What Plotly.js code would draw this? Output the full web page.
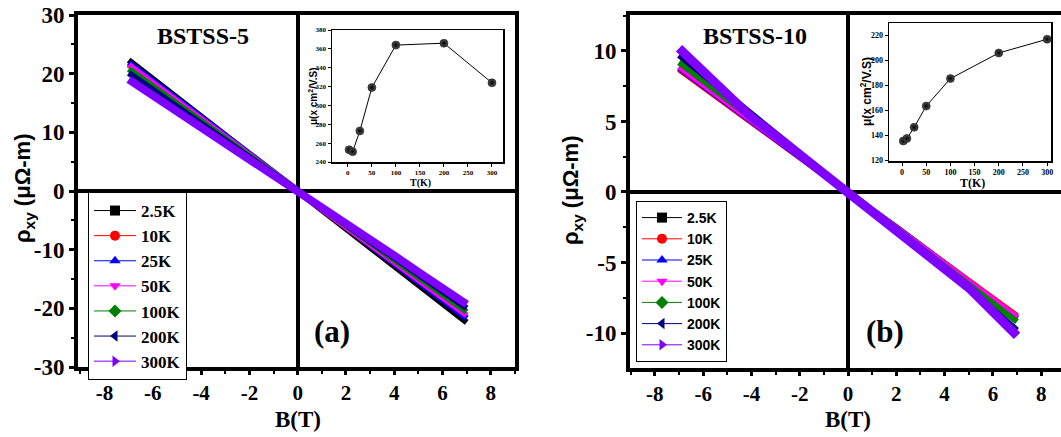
<!DOCTYPE html>
<html><head><meta charset="utf-8">
<script src="https://cdn.plot.ly/plotly-3.0.1.min.js"></script>
<style>body{margin:0;padding:0;background:#fff}#chart{width:1061px;height:437px}</style>
</head><body><div id="chart"></div>
<script>
// ---------- data ----------
const B = [-7,-6,-5,-4,-3,-2,-1,0,1,2,3,4,5,6,7];
const tempLabels = ['2.5K','10K','25K','50K','100K','200K','300K'];

// panel (a) BSTSS-5, rho_xy (µΩ-m)
const rhoA_2p5K = [22.3,19.1,15.9,12.8,9.6,6.4,3.2,0,-3.2,-6.4,-9.6,-12.8,-16.0,-19.2,-22.4];
const rhoA_10K  = [21.6,18.5,15.4,12.4,9.3,6.2,3.1,0,-3.1,-6.2,-9.3,-12.4,-15.4,-18.5,-21.6];
const rhoA_25K  = [21.9,18.8,15.6,12.5,9.4,6.3,3.1,0,-3.1,-6.2,-9.3,-12.4,-15.5,-18.6,-21.7];
const rhoA_50K  = [21.5,18.4,15.4,12.3,9.2,6.1,3.1,0,-3.0,-6.1,-9.1,-12.1,-15.2,-18.2,-21.2];
const rhoA_100K = [20.8,17.8,14.9,11.9,8.9,5.9,3.0,0,-2.9,-5.9,-8.8,-11.8,-14.7,-17.6,-20.6];
const rhoA_200K = [20.1,17.2,14.4,11.5,8.6,5.7,2.9,0,-2.9,-5.7,-8.6,-11.4,-14.3,-17.2,-20.0];
const rhoA_300K = [19.0,16.3,13.6,10.9,8.1,5.4,2.7,0,-2.8,-5.5,-8.3,-11.0,-13.8,-16.5,-19.3];

// panel (b) BSTSS-10
const rhoB_2p5K = [8.8,7.5,6.3,5.0,3.8,2.5,1.25,0,-1.27,-2.5,-3.8,-5.1,-6.35,-7.6,-8.9];
const rhoB_10K  = [8.7,7.45,6.2,5.0,3.7,2.5,1.24,0,-1.25,-2.5,-3.75,-5.0,-6.3,-7.55,-8.8];
const rhoB_25K  = [8.8,7.55,6.3,5.05,3.8,2.5,1.26,0,-1.27,-2.55,-3.8,-5.1,-6.4,-7.7,-9.0];
const rhoB_50K  = [8.9,7.6,6.35,5.1,3.8,2.55,1.27,0,-1.27,-2.55,-3.8,-5.1,-6.35,-7.6,-8.9];
const rhoB_100K = [9.2,7.9,6.55,5.25,3.9,2.6,1.3,0,-1.3,-2.6,-3.95,-5.25,-6.55,-7.9,-9.2];
const rhoB_200K = [9.7,8.3,6.9,5.5,4.1,2.75,1.35,0,-1.37,-2.75,-4.1,-5.5,-6.9,-8.35,-9.8];
const rhoB_300K = [10.2,8.5,6.8,5.3,4.0,2.65,1.33,0,-1.33,-2.65,-4.0,-5.3,-6.8,-8.5,-10.2];

// insets: mobility vs T
const T_inset = [2.5,10,25,50,100,200,300];
const muA = [253,251,273,319,364,366,324];
const muB = [135.5,137.5,146.5,163.5,185.5,206,217];

// tick labels
const xTickVals = [-8,-6,-4,-2,0,2,4,6,8];
const xTickText = ['-8','-6','-4','-2','0','2','4','6','8'];
const yATickVals = [-30,-20,-10,0,10,20,30];
const yATickText = ['-30','-20','-10','0','10','20','30'];
const yBTickVals = [-10,-5,0,5,10];
const yBTickText = ['-10','-5','0','5','10'];

const colors = ['#000000','#FF0000','#0000FF','#FF00FF','#008000','#000080','#8000FF'];
const symbols = ['square','circle','triangle-up','triangle-down','diamond','triangle-left','triangle-right'];

// ---------- layout helpers ----------
const W = 1061, H = 437;
const px = v => v / W;
const py = v => 1 - v / H;
const SERIF = 'Liberation Serif';
const SANS = 'Liberation Sans';
const bf = (family, size) => ({family:family, size:size, weight:700, color:'#000000'});

const seriesA = [rhoA_2p5K,rhoA_10K,rhoA_25K,rhoA_50K,rhoA_100K,rhoA_200K,rhoA_300K];
const seriesB = [rhoB_2p5K,rhoB_10K,rhoB_25K,rhoB_50K,rhoB_100K,rhoB_200K,rhoB_300K];

const traces = [];
seriesA.forEach((s,i) => traces.push({x:B, y:s, xaxis:'x', yaxis:'y', mode:'lines',
  line:{color:colors[i], width:(i===6?8:6)}, showlegend:false, hoverinfo:'skip'}));
seriesB.forEach((s,i) => traces.push({x:B, y:s, xaxis:'x2', yaxis:'y2', mode:'lines',
  line:{color:colors[i], width:(i===6?9:6)}, showlegend:false, hoverinfo:'skip'}));
// legend entries
tempLabels.forEach((t,i) => traces.push({x:[null], y:[null], xaxis:'x', yaxis:'y', mode:'lines+markers',
  name:t, legend:'legend', line:{color:colors[i], width:1},
  marker:{symbol:symbols[i], color:colors[i], size:10}}));
tempLabels.forEach((t,i) => traces.push({x:[null], y:[null], xaxis:'x2', yaxis:'y2', mode:'lines+markers',
  name:t, legend:'legend2', line:{color:colors[i], width:1},
  marker:{symbol:symbols[i], color:colors[i], size:10}}));
// insets
const insetMarker = {color:'#555555', size:8, gradient:{type:'radial', color:'#000000'}, line:{color:'#000', width:0.5}};
traces.push({x:T_inset, y:muA, xaxis:'x3', yaxis:'y3', mode:'lines+markers', showlegend:false,
  line:{color:'#000', width:1}, marker:insetMarker});
traces.push({x:T_inset, y:muB, xaxis:'x4', yaxis:'y4', mode:'lines+markers', showlegend:false,
  line:{color:'#000', width:1}, marker:insetMarker});

function mainX(domain, range, anchor){
  return {domain:domain, range:range, anchor:anchor, showline:true, mirror:true, linewidth:4, linecolor:'#000',
    ticks:'outside', ticklen:4, tickwidth:3, tickcolor:'#000',
    tickmode:'array', tickvals:xTickVals, ticktext:xTickText,
    minor:{tickmode:'linear', tick0:0, dtick:1, ticks:'outside', ticklen:3, tickwidth:2, tickcolor:'#000'},
    showgrid:false, zeroline:true, zerolinewidth:4, zerolinecolor:'#000',
    tickfont:bf(SERIF, 21), ticklabelstandoff:0, automargin:false, fixedrange:true};
}
function mainY(domain, range, vals, text, minorStep, anchor, mirror){
  return {domain:domain, range:range, anchor:anchor, showline:true, mirror:mirror, linewidth:4, linecolor:'#000',
    ticks:'outside', ticklen:5, tickwidth:3, tickcolor:'#000',
    tickmode:'array', tickvals:vals, ticktext:text,
    minor:{tickmode:'linear', tick0:0, dtick:minorStep, ticks:'outside', ticklen:3, tickwidth:2, tickcolor:'#000'},
    showgrid:false, zeroline:true, zerolinewidth:4, zerolinecolor:'#000',
    tickfont:bf(SERIF, 23), automargin:false, fixedrange:true};
}
function insetAx(domain, range, dtick, anchor, fsize){
  return {domain:domain, range:range, anchor:anchor, tickmode:'linear', dtick:dtick, tick0:0, showline:true, mirror:true,
    linewidth:1.5, linecolor:'#000', ticks:'outside', ticklen:3, tickwidth:1, tickcolor:'#000',
    showgrid:false, zeroline:false, tickfont:bf(SERIF, fsize), automargin:false, fixedrange:true};
}
function ann(text, x, y, font, angle){
  const a = {text:text, x:px(x), y:py(y), xref:'paper', yref:'paper', xanchor:'center', yanchor:'middle',
    showarrow:false, font:font};
  if (angle) a.textangle = angle;
  return a;
}

const layout = {
  width:W, height:H, margin:{l:0,r:0,t:0,b:0}, paper_bgcolor:'#fff', plot_bgcolor:'rgba(0,0,0,0)',
  font:{family:SERIF, size:16, weight:700, color:'#000'},
  showlegend:true,
  xaxis: mainX([px(78), px(515)], [-9.1, 9.0], 'y'),
  yaxis: mainY([py(367), py(15)], [-30, 30], yATickVals, yATickText, 5, 'x', true),
  xaxis2: mainX([px(630), 1], [-9.03, 8.82], 'y2'),
  yaxis2: mainY([py(368), py(15)], [-12.48, 12.55], yBTickVals, yBTickText, 2.5, 'x2', false),
  xaxis3: insetAx([px(332), px(503)], [-33, 323], 50, 'y3', 7),
  yaxis3: insetAx([py(162), py(30)], [240, 380], 20, 'x3', 7),
  xaxis4: insetAx([px(889), px(1051)], [-27, 308], 50, 'y4', 8),
  yaxis4: insetAx([py(161), py(23)], [119.5, 230], 20, 'x4', 8),
  legend: {x:px(88), y:py(192), xanchor:'left', yanchor:'top', bgcolor:'#fff', bordercolor:'#000', borderwidth:1,
    font:bf(SERIF, 17), tracegroupgap:0, itemwidth:42},
  legend2: {x:px(636), y:py(201), xanchor:'left', yanchor:'top', bgcolor:'#fff', bordercolor:'#000', borderwidth:1,
    font:bf(SANS, 14), tracegroupgap:0, itemwidth:40},
  annotations: [
    ann('BSTSS-5', 203, 36, bf(SERIF, 24)),
    ann('BSTSS-10', 755, 36, bf(SERIF, 24)),
    ann('(a)', 332, 331, bf(SERIF, 31)),
    ann('(b)', 885, 331, bf(SERIF, 31)),
    ann('B(T)', 298, 419, bf(SERIF, 23)),
    ann('B(T)', 848, 419, bf(SERIF, 23)),
    ann('ρ<sub>xy</sub> (μΩ-m)', 24, 188, bf(SANS, 22), -90),
    ann('ρ<sub>xy</sub> (μΩ-m)', 572, 190, bf(SANS, 22), -90),
    ann('μ(x cm<sup>2</sup>/V.S)', 313, 97, bf(SANS, 10), -90),
    ann('μ(x cm<sup>2</sup>/V.S)', 866, 92, bf(SANS, 12), -90),
    ann('T(K)', 420, 183, bf(SERIF, 10)),
    ann('T(K)', 972, 183, bf(SERIF, 12))
  ]
};

Plotly.newPlot('chart', traces, layout, {staticPlot:true, displayModeBar:false});
</script>
</body></html>
